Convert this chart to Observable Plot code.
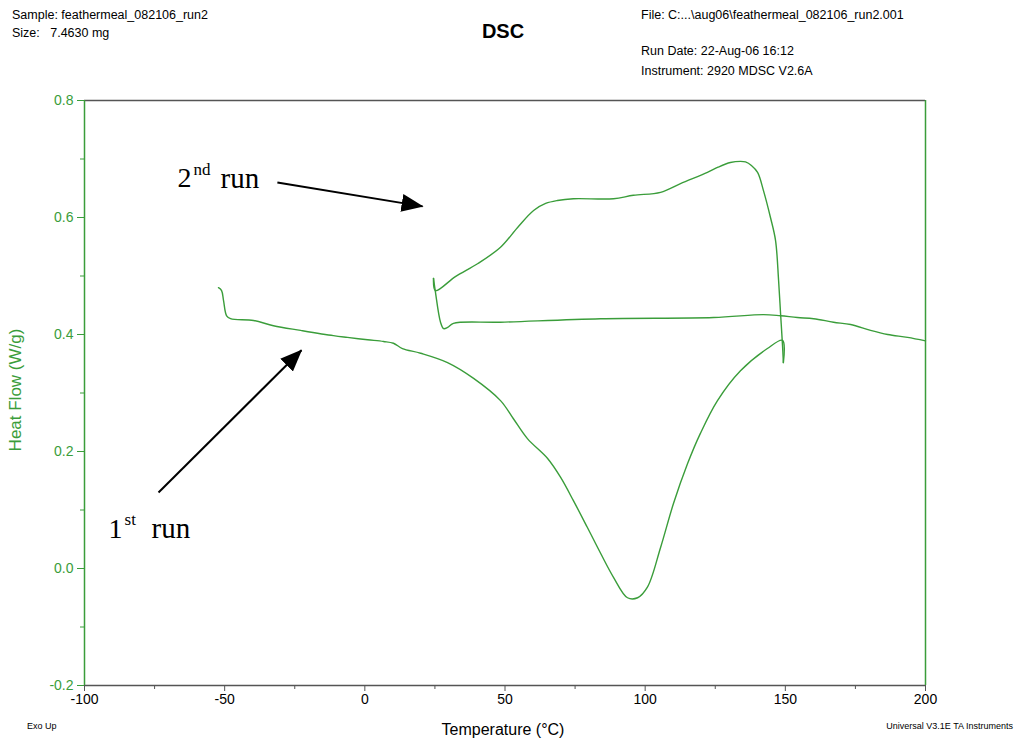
<!DOCTYPE html>
<html><head><meta charset="utf-8">
<script src="https://cdn.jsdelivr.net/npm/d3@7"></script>
<script src="https://cdn.jsdelivr.net/npm/@observablehq/plot@0.6"></script>
<style>
body{margin:0;background:#fff;}
#wrap{position:relative;width:1016px;height:745px;font-family:"Liberation Sans",Arial,sans-serif;overflow:hidden;}
.t{position:absolute;white-space:pre;font-size:12.5px;color:#000;line-height:1;}
#chart{position:absolute;left:0;top:0;}
</style></head><body><div id="wrap">
<div id="chart"></div>
<div class="t" style="left:12px;top:9px;">Sample: feathermeal_082106_run2</div>
<div class="t" style="left:12px;top:27px;">Size:   7.4630 mg</div>
<div class="t" style="left:503px;top:21px;font-size:20px;font-weight:bold;transform:translateX(-50%);">DSC</div>
<div class="t" style="left:641px;top:9px;">File: C:...\aug06\feathermeal_082106_run2.001</div>
<div class="t" style="left:641px;top:45px;">Run Date: 22-Aug-06 16:12</div>
<div class="t" style="left:641px;top:65px;">Instrument: 2920 MDSC V2.6A</div>
<div class="t" style="left:27px;top:722px;font-size:9px;">Exo Up</div>
<div class="t" style="right:3px;top:722px;font-size:9px;">Universal V3.1E TA Instruments</div>
<div class="t" style="left:503px;top:722px;font-size:16px;transform:translateX(-50%);">Temperature (°C)</div>
<div class="t" style="left:15px;top:390px;font-size:17px;color:#3a9d3a;transform:translate(-50%,-50%) rotate(-90deg);">Heat Flow (W/g)</div>
</div>
<script>
// ---- data ----
const run1Temp = [-52.2, -51.1, -50.4, -49.3, -47.9, -39.7, -32.6, -22.9, -11.2, -6.2, 1.0, 6.7, 10.2, 13.4, 19.9, 29.5, 38.8, 48.4, 53.0, 58.0, 65.2, 69.8, 74.4, 79.4, 84.1, 88.7, 93.7, 97.3, 100.8, 105.5, 110.1, 115.1, 119.7, 125.8, 134.0, 143.6, 149.0, 149.3];
const run1Flow = [0.480, 0.475, 0.458, 0.432, 0.427, 0.424, 0.415, 0.407, 0.398, 0.395, 0.391, 0.388, 0.385, 0.376, 0.368, 0.352, 0.325, 0.287, 0.256, 0.222, 0.188, 0.156, 0.116, 0.070, 0.026, -0.015, -0.050, -0.050, -0.032, 0.036, 0.111, 0.179, 0.231, 0.287, 0.338, 0.376, 0.390, 0.352];
const coolTemp = [149.3, 149.0, 148.3, 147.6, 146.5, 144.7, 142.2, 140.1, 137.9, 135.8, 134.0, 130.4, 126.0, 122.2, 112.6, 105.5, 95.8, 88.7, 74.4, 68.7, 64.5, 60.2, 54.5, 48.4, 40.2, 32.3, 25.2, 24.5];
const coolFlow = [0.352, 0.381, 0.436, 0.492, 0.561, 0.600, 0.646, 0.677, 0.689, 0.695, 0.696, 0.694, 0.686, 0.677, 0.658, 0.643, 0.638, 0.632, 0.632, 0.629, 0.624, 0.612, 0.583, 0.549, 0.521, 0.499, 0.475, 0.496];
const run2Temp = [24.5, 25.2, 27.0, 28.1, 29.5, 31.6, 48.4, 84.1, 124.4, 142.2, 148.3, 154.3, 160.1, 167.2, 173.3, 180.4, 186.5, 193.6, 200.0];
const run2Flow = [0.496, 0.472, 0.421, 0.410, 0.412, 0.419, 0.421, 0.427, 0.429, 0.434, 0.432, 0.429, 0.427, 0.421, 0.417, 0.407, 0.400, 0.395, 0.389];

const xMajorTicks = [-100, -50, 0, 50, 100, 150, 200];
const xMinorTicks = [-75, -25, 25, 75, 125, 175];
const yMajorTicks = [-0.2, 0.0, 0.2, 0.4, 0.6, 0.8];
const yMinorTicks = [-0.1, 0.1, 0.3, 0.5, 0.7];

// annotations (data units)
const labelNames = ["2", "1"];
const labelSups = ["nd", "st"];
const labelTemp = [-66.8, -91.4];
const labelFlow = [0.667, 0.068];
const arrowFromTemp = [-31.2, -73.6];
const arrowFromFlow = [0.660, 0.130];
const arrowToTemp = [20.6, -22.6];
const arrowToFlow = [0.619, 0.373];

// ---- build tables ----
const curve = [];
run1Temp.forEach((t, i) => curve.push({seg: "run1", T: t, hf: run1Flow[i]}));
coolTemp.forEach((t, i) => curve.push({seg: "cool", T: t, hf: coolFlow[i]}));
run2Temp.forEach((t, i) => curve.push({seg: "run2", T: t, hf: run2Flow[i]}));
const labels = labelNames.map((n, i) => ({n, sup: labelSups[i], T: labelTemp[i], hf: labelFlow[i]}));
const arrows = arrowFromTemp.map((t, i) => ({x1: t, y1: arrowFromFlow[i], x2: arrowToTemp[i], y2: arrowToFlow[i]}));

const green = "#3a9d3a";
const frameDark = "#555";
const serif = "'Liberation Serif', 'Times New Roman', serif";

const plot = Plot.plot({
  width: 1016, height: 745,
  marginTop: 100, marginLeft: 84, marginRight: 91, marginBottom: 60,
  style: {fontFamily: "'Liberation Sans', Arial, sans-serif", fontSize: "13px", background: "transparent", overflow: "visible"},
  x: {domain: [-100, 200], label: null},
  y: {domain: [-0.2, 0.8], label: null},
  marks: [
    Plot.axisX({ticks: xMajorTicks, tickSize: 6, tickPadding: 3, stroke: frameDark, fill: "#000", fontSize: 14, tickFormat: d => String(d), label: null}),
    Plot.axisX({ticks: xMinorTicks, tickSize: 4, stroke: frameDark, tickFormat: () => "", label: null}),
    Plot.axisY({ticks: yMajorTicks, tickSize: 7, tickPadding: 4, stroke: green, fill: green, fontSize: 14, tickFormat: d => d.toFixed(1), label: null}),
    Plot.axisY({ticks: yMinorTicks, tickSize: 4, stroke: green, tickFormat: () => "", label: null}),
    Plot.ruleY([-0.2, 0.8], {stroke: frameDark, strokeWidth: 1.5}),
    Plot.ruleX([-100, 200], {stroke: green, strokeWidth: 1.5}),
    Plot.line(curve, {x: "T", y: "hf", z: "seg", stroke: green, strokeWidth: 1.4, curve: "catmull-rom"}),
    Plot.link(arrows, {x1: "x1", y1: "y1", x2: "x2", y2: "y2", stroke: "#000", strokeWidth: 2, className: "arrow-links"}),
    Plot.text(labels, {x: "T", y: "hf", text: "n", textAnchor: "start", fontSize: 28, fontFamily: serif, fill: "#000"}),
    Plot.text(labels, {x: "T", y: "hf", text: "sup", textAnchor: "start", dx: 16, dy: -9, fontSize: 17, fontFamily: serif, fill: "#000"}),
    Plot.text(labels, {x: "T", y: "hf", text: () => "run", textAnchor: "start", dx: 43, fontSize: 29, fontFamily: serif, fill: "#000"})
  ]
});

const svg = d3.select(plot);
const defs = svg.append("defs");
defs.append("marker")
  .attr("id", "ahead")
  .attr("viewBox", "0 0 22 18")
  .attr("markerWidth", 22).attr("markerHeight", 18)
  .attr("markerUnits", "userSpaceOnUse")
  .attr("refX", 21).attr("refY", 9)
  .attr("orient", "auto")
  .append("path").attr("d", "M0,0L22,9L0,18Z").attr("fill", "#000");
svg.selectAll("g.arrow-links path").attr("marker-end", "url(#ahead)");

document.getElementById("chart").appendChild(plot);
</script>
</body></html>
